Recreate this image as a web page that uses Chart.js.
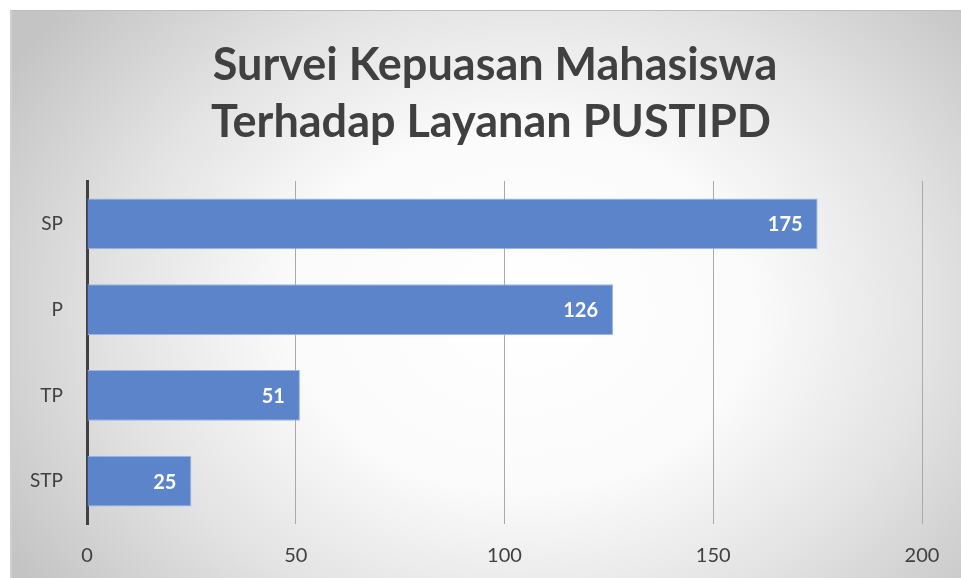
<!DOCTYPE html>
<html>
<head>
<meta charset="utf-8">
<script src="https://cdn.jsdelivr.net/npm/chart.js@4/dist/chart.umd.min.js"></script>
<style>
  html, body { margin: 0; padding: 0; background: #fff; }
  #wrap { position: relative; width: 961px; height: 578px; overflow: hidden; }
  #bg {
    position: absolute; left: 10px; top: 10px; right: -2px; bottom: -2px;
    border-top: 1px solid #bdbdbd; border-left: 2px solid #cfcfcf;
    background: radial-gradient(ellipse 600px 470px at 510px 300px, #ffffff 0%, #fbfbfb 38%, #e3e3e3 68%, #c4c4c4 100%);
  }
  #c { position: absolute; left: 0; top: 0; }
</style>
</head>
<body>
<div id="wrap">
  <div id="bg"></div>
  <canvas id="c" width="961" height="578"></canvas>
</div>
<script>
(function () {
  'use strict';

  var TITLE_LINES = ['Survei Kepuasan Mahasiswa', 'Terhadap Layanan PUSTIPD'];
  var CATEGORIES  = ['SP', 'P', 'TP', 'STP'];
  var VALUES      = [175, 126, 51, 25];
  var X_TICKS     = [0, 50, 100, 150, 200];

  var FONT = 'Lato, "Open Sans", sans-serif';
  var TEXT = '#404040';

  // Judul – vlastní vykreslení, aby šel vycentrovat nezávisle na osách
  var titlePlugin = {
    id: 'titleText',
    afterDraw: function (chart) {
      var ctx = chart.ctx;
      ctx.save();
      ctx.fillStyle = TEXT;
      ctx.font = 'bold 45px ' + FONT;
      ctx.textAlign = 'center';
      ctx.textBaseline = 'middle';
      ctx.fillText(TITLE_LINES[0], 495, 65);
      ctx.fillText(TITLE_LINES[1], 491, 122);
      ctx.restore();
    }
  };

  // Popisky hodnot uvnitř konce sloupce
  var valueLabels = {
    id: 'valueLabels',
    afterDatasetsDraw: function (chart) {
      var ctx = chart.ctx;
      var meta = chart.getDatasetMeta(0);
      ctx.save();
      ctx.fillStyle = '#ffffff';
      ctx.font = 'bold 20px ' + FONT;
      ctx.textAlign = 'right';
      ctx.textBaseline = 'middle';
      meta.data.forEach(function (bar, i) {
        ctx.fillText(String(VALUES[i]), bar.x - 15, bar.y + 1);
      });
      ctx.restore();
    }
  };

  new Chart(document.getElementById('c'), {
    type: 'bar',
    data: {
      labels: CATEGORIES,
      datasets: [{
        data: VALUES,
        backgroundColor: '#5b84cb',
        borderColor: '#9db5e2',
        borderWidth: 1,
        borderSkipped: 'start',
        barPercentage: 0.59,
        categoryPercentage: 1.0
      }]
    },
    options: {
      indexAxis: 'y',
      responsive: false,
      devicePixelRatio: 1,
      animation: false,
      layout: { padding: { top: 181, right: 39, bottom: 0, left: 0 } },
      plugins: {
        legend: { display: false },
        title: { display: false },
        tooltip: { enabled: false }
      },
      scales: {
        x: {
          min: 0,
          max: 200,
          afterBuildTicks: function (axis) {
            axis.ticks = X_TICKS.map(function (v) { return { value: v }; });
          },
          afterFit: function (axis) { axis.height = 54; },
          grid: { color: '#a9a9a9', lineWidth: 1, drawTicks: false },
          border: { display: false },
          ticks: { color: TEXT, font: { family: FONT, size: 20 }, padding: 20 }
        },
        y: {
          afterFit: function (axis) { axis.width = 87; },
          grid: { display: false, drawTicks: false },
          border: { display: true, color: '#404040', width: 3 },
          ticks: { color: TEXT, font: { family: FONT, size: 19 }, padding: 24 }
        }
      }
    },
    plugins: [titlePlugin, valueLabels]
  });
})();
</script>
</body>
</html>
